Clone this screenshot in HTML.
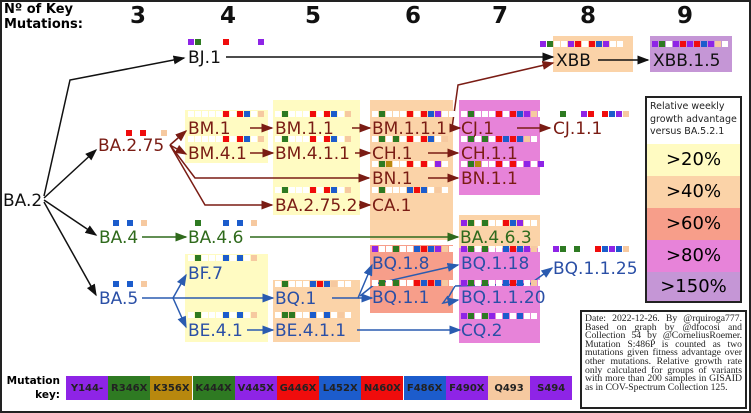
<!DOCTYPE html>
<html><head><meta charset="utf-8"><style>
body{margin:0;background:#fff}
#root{position:relative;width:751px;height:413px;overflow:hidden;background:#fff;font-family:"DejaVu Sans","Liberation Sans",sans-serif}
.frame{position:absolute;left:0;top:0;width:747px;height:409px;border:2px solid #222}
.box{position:absolute}
.t{position:absolute;font-size:17px;line-height:18px;white-space:nowrap;margin-top:1px}
.r{color:#7a1c14}.g{color:#2f6a1c}.b{color:#2a4fa6}.k{color:#111}
.num{position:absolute;top:3px;font:bold 23px "DejaVu Sans",sans-serif;color:#111}
.strip{position:absolute;height:6px;display:flex;gap:1px;margin-top:-2px}
.strip span{width:6px;height:6px}
.key{position:absolute;top:376px;height:24px;width:42px;font:bold 10px "DejaVu Sans",sans-serif;display:flex;align-items:center;justify-content:center;color:#222}
svg{position:absolute;left:0;top:0}
</style></head><body>
<div id="root">
<div class="frame"></div>
<div style="position:absolute;left:4px;top:2px;font:bold 13px 'DejaVu Sans',sans-serif;line-height:15px">Nº of Key<br>Mutations:</div>
<div class="num" style="left:130px">3</div>
<div class="num" style="left:220px">4</div>
<div class="num" style="left:305px">5</div>
<div class="num" style="left:405px">6</div>
<div class="num" style="left:492px">7</div>
<div class="num" style="left:580px">8</div>
<div class="num" style="left:677px">9</div>

<div class="box" style="left:553px;top:36px;width:80px;height:36px;background:#fbd3a8"></div>
<div class="box" style="left:650px;top:36px;width:82px;height:36px;background:#c596d6"></div>
<div class="box" style="left:185px;top:110px;width:83px;height:53px;background:#fffbc2"></div>
<div class="box" style="left:273px;top:100px;width:87px;height:115px;background:#fffbc2"></div>
<div class="box" style="left:370px;top:100px;width:83px;height:140px;background:#fbd3a8"></div>
<div class="box" style="left:459px;top:100px;width:81px;height:95px;background:#e783d9"></div>
<div class="box" style="left:459px;top:215px;width:81px;height:33px;background:#fbd3a8"></div>
<div class="box" style="left:185px;top:254px;width:83px;height:88px;background:#fffbc2"></div>
<div class="box" style="left:273px;top:280px;width:87px;height:62px;background:#fbd3a8"></div>
<div class="box" style="left:370px;top:245px;width:83px;height:68px;background:#f79e8a"></div>
<div class="box" style="left:459px;top:248px;width:81px;height:95px;background:#e783d9"></div>

<svg width="751" height="413">
<defs>
<marker id="ak" markerWidth="8" markerHeight="6" refX="7" refY="3" orient="auto"><path d="M0,0L8,3L0,6z" fill="#111"/></marker>
<marker id="ar" markerWidth="8" markerHeight="6" refX="7" refY="3" orient="auto"><path d="M0,0L8,3L0,6z" fill="#7a1c14"/></marker>
<marker id="ag" markerWidth="8" markerHeight="6" refX="7" refY="3" orient="auto"><path d="M0,0L8,3L0,6z" fill="#2f6a1c"/></marker>
<marker id="ab" markerWidth="8" markerHeight="6" refX="7" refY="3" orient="auto"><path d="M0,0L8,3L0,6z" fill="#2a5bb0"/></marker>
</defs>
<g fill="none" stroke-width="1.5">
<g stroke="#111">
<path d="M44,196L70,80L184,58" marker-end="url(#ak)"/>
<path d="M44,198L96,150" marker-end="url(#ak)"/>
<path d="M44,200L96,235" marker-end="url(#ak)"/>
<path d="M44,202L96,295" marker-end="url(#ak)"/>
<path d="M226,57L553,57" marker-end="url(#ak)"/>
<path d="M598,60L648,60" marker-end="url(#ak)"/>
</g>
<g stroke="#7a1c14">
<path d="M170,145L186,131" marker-end="url(#ar)"/>
<path d="M170,145L186,154" marker-end="url(#ar)"/>
<path d="M170,145L195,178L369,178" marker-end="url(#ar)"/>
<path d="M170,145L205,205L272,205" marker-end="url(#ar)"/>
<path d="M250,128L272,128" marker-end="url(#ar)"/>
<path d="M250,153L273,153" marker-end="url(#ar)"/>
<path d="M352,128L370,128" marker-end="url(#ar)"/>
<path d="M355,153L370,153" marker-end="url(#ar)"/>
<path d="M359,205L370,205" marker-end="url(#ar)"/>
<path d="M452,128L460,128" marker-end="url(#ar)"/>
<path d="M452,128L458,85L553,63" marker-end="url(#ar)"/>
<path d="M517,128L550,128" marker-end="url(#ar)"/>
<path d="M428,153L458,153" marker-end="url(#ar)"/>
<path d="M428,178L458,178" marker-end="url(#ar)"/>
</g>
<g stroke="#2f6a1c">
<path d="M142,237L186,237" marker-end="url(#ag)"/>
<path d="M250,237L458,237" marker-end="url(#ag)"/>
</g>
<g stroke="#2a5bb0">
<path d="M142,298L273,298" marker-end="url(#ab)"/>
<path d="M173,298L186,275" marker-end="url(#ab)"/>
<path d="M173,298L186,327" marker-end="url(#ab)"/>
<path d="M247,330L273,330" marker-end="url(#ab)"/>
<path d="M332,298L358,298L372,265" marker-end="url(#ab)"/>
<path d="M358,298L372,298" marker-end="url(#ab)"/>
<path d="M360,296L375,284L458,265" marker-end="url(#ab)"/>
<path d="M448,296L443,303L458,300" marker-end="url(#ab)"/>
<path d="M448,298L455,286L530,284L552,268" marker-end="url(#ab)"/>
<path d="M357,330L460,330" marker-end="url(#ab)"/>
</g>
</g>
</svg>

<div class="t k" style="left:3px;top:191px">BA.2</div>
<div class="t k" style="left:188px;top:48px">BJ.1</div>
<div class="t k" style="left:556px;top:51px">XBB</div>
<div class="t k" style="left:653px;top:51px">XBB.1.5</div>
<div class="t r" style="left:98px;top:136px">BA.2.75</div>
<div class="t r" style="left:188px;top:119px">BM.1</div>
<div class="t r" style="left:188px;top:144px">BM.4.1</div>
<div class="t r" style="left:275px;top:119px">BM.1.1</div>
<div class="t r" style="left:275px;top:144px">BM.4.1.1</div>
<div class="t r" style="left:275px;top:196px">BA.2.75.2</div>
<div class="t r" style="left:372px;top:119px">BM.1.1.1</div>
<div class="t r" style="left:372px;top:144px">CH.1</div>
<div class="t r" style="left:372px;top:169px">BN.1</div>
<div class="t r" style="left:372px;top:196px">CA.1</div>
<div class="t r" style="left:461px;top:119px">CJ.1</div>
<div class="t r" style="left:461px;top:144px">CH.1.1</div>
<div class="t r" style="left:461px;top:169px">BN.1.1</div>
<div class="t r" style="left:553px;top:119px">CJ.1.1</div>
<div class="t g" style="left:99px;top:228px">BA.4</div>
<div class="t g" style="left:188px;top:228px">BA.4.6</div>
<div class="t g" style="left:460px;top:228px">BA.4.6.3</div>
<div class="t b" style="left:99px;top:289px">BA.5</div>
<div class="t b" style="left:188px;top:264px">BF.7</div>
<div class="t b" style="left:188px;top:321px">BE.4.1</div>
<div class="t b" style="left:275px;top:289px">BQ.1</div>
<div class="t b" style="left:275px;top:321px">BE.4.1.1</div>
<div class="t b" style="left:372px;top:254px">BQ.1.8</div>
<div class="t b" style="left:372px;top:288px">BQ.1.1</div>
<div class="t b" style="left:461px;top:254px">BQ.1.18</div>
<div class="t b" style="left:461px;top:288px">BQ.1.1.20</div>
<div class="t b" style="left:461px;top:321px">CQ.2</div>
<div class="t b" style="left:553px;top:259px">BQ.1.1.25</div>

<div style="position:absolute;left:645px;top:96px;width:93px;height:203px;border:2px solid #222;background:#fff;overflow:hidden">
<div style="font-size:9.5px;line-height:12.5px;padding:3px 3px;color:#222;height:38px">Relative weekly growth advantage versus BA.5.2.1</div>
<div style="position:absolute;top:46px;width:100%;height:32px;background:#fffbc2;font-size:18px;text-align:center;line-height:32px">&gt;20%</div>
<div style="position:absolute;top:78px;width:100%;height:32px;background:#fbd3a8;font-size:18px;text-align:center;line-height:32px">&gt;40%</div>
<div style="position:absolute;top:110px;width:100%;height:32px;background:#f79e8a;font-size:18px;text-align:center;line-height:32px">&gt;60%</div>
<div style="position:absolute;top:142px;width:100%;height:32px;background:#e783d9;font-size:18px;text-align:center;line-height:32px">&gt;80%</div>
<div style="position:absolute;top:174px;width:100%;height:30px;background:#c596d6;font-size:18px;text-align:center;line-height:30px">&gt;150%</div>
</div>

<div style="position:absolute;left:580px;top:310px;width:157px;height:92px;border:2px solid #222;padding:3px 3px 0 3px;font:9.7px/8.6px 'Liberation Serif',serif;text-align:justify;color:#222;background:#fff">Date: 2022-12-26. By @rquiroga777. Based on graph by @dfocosi and Collection 54 by @CorneliusRoemer. Mutation S:486P is counted as two mutations given fitness advantage over other mutations. Relative growth rate only calculated for groups of variants with more than 200 samples in GISAID as in COV-Spectrum Collection 125.</div>

<div style="position:absolute;left:4px;top:374px;width:56px;text-align:right;font:bold 10.5px/14px 'DejaVu Sans',sans-serif">Mutation<br>key:</div>
<div id="keys"></div>
<div id="strips"></div>
</div>
<script>
const C={p:'#8e24e6',g:'#2e7a22',o:'#b8880e',r:'#f00c0c',b:'#1c5ccc',q:'#f6c9a0',w:'#ffffff'};
const keyNames=['Y144-','R346X','K356X','K444X','V445X','G446X','L452X','N460X','F486X','F490X','Q493','S494'];
const keyColors=['p','g','o','g','p','r','b','r','b','p','q','p'];
const kc=document.getElementById('keys');
keyNames.forEach((n,i)=>{const d=document.createElement('div');d.className='key';d.style.left=(66+i*42.2)+'px';d.style.background=C[keyColors[i]];d.textContent=n;


kc.appendChild(d);});
const strips=[
[188,41,'pg...r....p...'],[98,132,'....r.r..q'],[188,113,'.....r.rb.q'],[188,138,'.....r.rb.q'],
[275,113,'.g...r.rb.q'],[275,138,'.g...r.rb.q'],[275,189,'.g...r.rb.q'],
[372,113,'.g...r.rbp.w'],[372,138,'.g.g.r.rb.q'],[372,163,'.go..r.r.p.'],[372,189,'.g...brb.q.'],
[461,113,'.g...r.rbpqw'],[461,138,'.g.g.rbrbqw'],[461,163,'.go..r.r.p.p'],[553,113,'.g..pr.rbpq'],
[540,43,'pg..pr.rbp.w'],[652,43,'pg.prprbpq.'],
[99,222,'..b.b.q'],[188,222,'.g...b.b.q'],[461,222,'pg.g..rbp.w'],
[99,283,'..b.b.q'],[188,257,'.g...b.b.q'],[188,314,'.g...b.b.q'],[275,283,'.g...brbq.w'],[275,314,'.gg..b.b.qw'],
[372,248,'p..g..brbpqw'],[372,282,'.g.g..rbrbqw'],[461,248,'pg.g..brbpqw'],[461,282,'pg.g..brb.qw'],[461,315,'pg.gp.b.b.w'],[553,248,'pg.g..rbpbq']];
const sc=document.getElementById('strips');
strips.forEach(([x,y,s],i)=>{const d=document.createElement('div');d.className='strip';d.style.left=x+'px';d.style.top=y+'px';


for(const ch of s){const sp=document.createElement('span');sp.style.background=ch==='.'?'#fff':C[ch];d.appendChild(sp);}
sc.appendChild(d);});
</script>
</body></html>
